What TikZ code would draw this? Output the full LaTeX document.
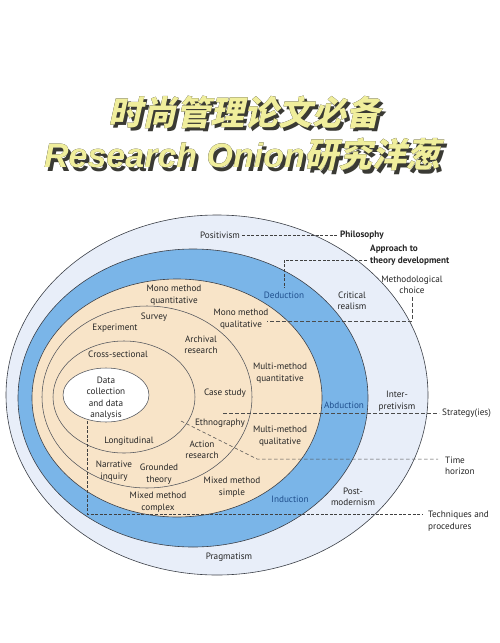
\documentclass[tikz,border=0pt]{standalone}
\usepackage{fontspec}
\usepackage{pdfrender}
\newfontfamily\lblfont{PT Sans}
\newfontfamily\titlelat{Liberation Sans}
\newfontfamily\titlecjk{Noto Sans CJK SC}[FakeSlant=0.22]
\definecolor{ringA}{HTML}{E8EEF9}
\definecolor{ringB}{HTML}{7AB5E8}
\definecolor{ringC}{HTML}{F8E4C8}
\definecolor{edgec}{HTML}{3C4048}
\definecolor{bluetxt}{HTML}{1F4E8C}
\definecolor{titlefill}{HTML}{F0EE9C}
\definecolor{shadowc}{HTML}{3A3A34}
\newcommand{\ttlA}{{\titlecjk\bfseries 时尚管理论文必备}}
\newcommand{\ttlB}{{\titlelat\bfseries\itshape Research Onion}{\titlecjk\bfseries 研究洋葱}}
\newcommand{\thick}[1]{\textpdfrender{TextRenderingMode=FillStroke,LineWidth=2.8,LineJoin=1}{#1}}
\tikzset{
  lbl/.style={font=\lblfont\fontsize{9.2}{11.5}\selectfont, align=center, inner sep=0pt, text=black!85},
  lblb/.style={lbl, font=\lblfont\bfseries\fontsize{9.2}{11.5}\selectfont},
  blu/.style={lbl, text=bluetxt},
  ring/.style={draw=edgec, line width=0.6pt},
  inner/.style={draw=edgec!90, line width=0.55pt},
  lk/.style={draw=black!75, line width=0.5pt, dash pattern=on 3pt off 1.6pt},
  lkd/.style={draw=black!70, line width=0.5pt, dash pattern=on 3.5pt off 2.5pt},
  ttl/.style={font=\fontsize{34}{40}\selectfont, inner sep=0pt}
}
\begin{document}
\begin{tikzpicture}[x=1pt,y=-1pt]
\useasboundingbox (0,0) rectangle (500,643);
\fill[white] (0,0) rectangle (500,643);
% title
\node[ttl, text=shadowc] (t1shadow) at (247.5,115.5) {\thick{\ttlA}};
\node[ttl, text=black] (t1outline) at (244.5,112) {\thick{\ttlA}};
\node[ttl, text=titlefill] (t1) at (244.5,112) {\ttlA};
\node[ttl, text=shadowc] (t2shadow) at (245.5,158.5) {\thick{\ttlB}};
\node[ttl, text=black] (t2outline) at (242.5,155) {\thick{\ttlB}};
\node[ttl, text=titlefill] (t2) at (242.5,155) {\ttlB};
% onion layers
\path[ring, fill=ringA] (217,395) ellipse [x radius=211pt, y radius=180pt];
\path[ring, fill=ringB] (193,398) ellipse [x radius=175pt, y radius=149pt];
\path[ring, fill=ringC] (177,398) ellipse [x radius=145pt, y radius=119pt];
\path[inner] (147,397) ellipse [x radius=105pt, y radius=91pt];
\path[inner] (124,397) ellipse [x radius=71pt, y radius=56pt];
\path[inner, fill=white] (106,395) ellipse [x radius=43pt, y radius=27pt];
% labels
\node[lbl] (positivism) at (220,235) {Positivism};
\node[lblb, anchor=west] (philosophy) at (340,235) {Philosophy};
\node[lblb, align=left, anchor=west] (approach) at (370,255) {Approach to\\theory development};
\node[blu] (deduction) at (284,295) {Deduction};
\node[lbl] (critical) at (352,301) {Critical\\realism};
\node[lbl] (method) at (412,285) {Methodological\\choice};
\node[lbl] (monoquant) at (174,295) {Mono method\\quantitative};
\node[lbl] (monoqual) at (241,319) {Mono method\\qualitative};
\node[lbl] (survey) at (154,317) {Survey};
\node[lbl] (experiment) at (115,328) {Experiment};
\node[lbl] (archival) at (201,345) {Archival\\research};
\node[lbl] (cross) at (118,354) {Cross-sectional};
\node[lbl] (data) at (106,398) {Data\\collection\\and data\\analysis};
\node[lbl] (casestudy) at (225,393) {Case study};
\node[lbl] (multiquant) at (280,373) {Multi-method\\quantitative};
\node[blu] (abduction) at (344,405) {Abduction};
\node[lbl] (inter) at (397,401) {Inter-\\pretivism};
\node[lbl, anchor=west] (strategy) at (442,413) {Strategy(ies)};
\node[lbl] (ethno) at (220,423) {Ethnography};
\node[lbl] (multiqual) at (280,436) {Multi-method\\qualitative};
\node[lbl] (longi) at (129,441) {Longitudinal};
\node[lbl] (action) at (202,450) {Action\\research};
\node[lbl, align=left, anchor=west] (timeh) at (445,466) {Time\\horizon};
\node[lbl] (narrative) at (114,471) {Narrative\\inquiry};
\node[lbl] (grounded) at (159,474) {Grounded\\theory};
\node[lbl] (mmsimple) at (232,487) {Mixed method\\simple};
\node[lbl] (mmcomplex) at (158,502) {Mixed method\\complex};
\node[blu] (induction) at (290,499) {Induction};
\node[lbl] (post) at (353,497) {Post-\\modernism};
\node[lbl, align=left, anchor=west] (tech) at (428,521) {Techniques and\\procedures};
\node[lbl] (pragmatism) at (229,557) {Pragmatism};
% connectors
\coordinate (apc) at (367,260);
\coordinate (mcend) at (267,321);
\coordinate (stl) at (223,413);
\coordinate (tha) at (181,421);
\coordinate (thb) at (257,459);
\coordinate (thc) at (438,459);
\coordinate (tca) at (87,421);
\coordinate (tcb) at (87,514);
\coordinate (tcc) at (423,514);
\draw[lk] ([xshift=2pt]positivism.east) -- ([xshift=-2pt]philosophy.west);
\draw[lk] (apc) -| ([yshift=3pt]deduction.north);
\draw[lkd] ([yshift=-3pt]method.south) |- (mcend);
\draw[lkd] (stl) -- ([xshift=-3pt]strategy.west);
\draw[lkd] (tha) -- (thb) -- (thc);
\draw[lk] (tca) -- (tcb) -- (tcc);
\end{tikzpicture}
\end{document}
